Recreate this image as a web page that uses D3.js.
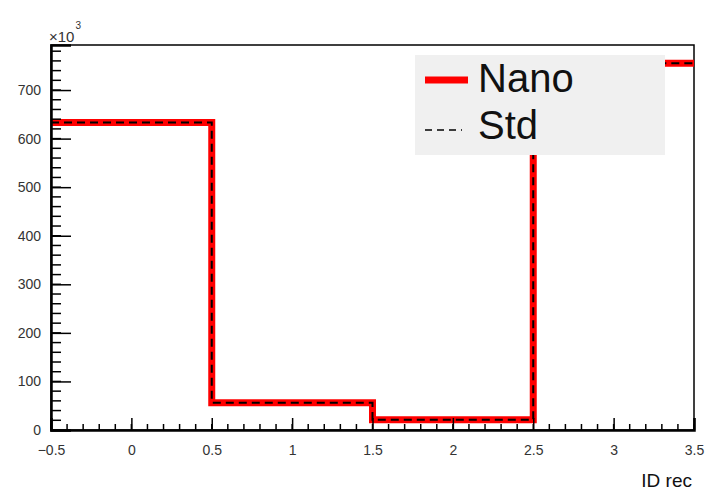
<!DOCTYPE html>
<html><head><meta charset="utf-8">
<script src="https://cdn.jsdelivr.net/npm/d3@7"></script>
<style>body{margin:0;background:#fff}svg{display:block}text{font-family:"Liberation Sans",Arial,sans-serif}</style>
</head><body>
<script>
const binEdges = [-0.5, 0.5, 1.5, 2.5, 3.5];
const nanoValues = [633, 56, 21, 755];   // in units of 10^3
const stdValues  = [633, 56, 21, 755];
const xTicks = [-0.5, 0, 0.5, 1, 1.5, 2, 2.5, 3, 3.5];
const yTicks = [0, 100, 200, 300, 400, 500, 600, 700];
const seriesNames = ["Nano", "Std"];

const W = 705, H = 492;
const m = {l: 51, r: 694, t: 45, b: 430};
const svg = d3.select("body").append("svg").attr("width", W).attr("height", H);

const x = d3.scaleLinear().domain([-0.5, 3.5]).range([m.l, m.r]);
const y = d3.scaleLinear().domain([0, 792.75]).range([m.b, m.t]);

// frame
svg.append("rect").attr("x", m.l).attr("y", m.t).attr("width", m.r - m.l).attr("height", m.b - m.t)
  .attr("fill", "none").attr("stroke", "#000").attr("stroke-width", 1.5);

function stepPath(vals) {
  const p = d3.path();
  vals.forEach((v, i) => {
    if (i === 0) p.moveTo(x(binEdges[0]), y(v));
    else p.lineTo(x(binEdges[i]), y(v));
    p.lineTo(x(binEdges[i + 1]), y(v));
  });
  return p.toString();
}

svg.append("defs").append("clipPath").attr("id", "clip").append("rect")
  .attr("x", m.l).attr("y", m.t).attr("width", m.r - m.l).attr("height", m.b - m.t);

const g = svg.append("g").attr("clip-path", "url(#clip)");
g.append("path").attr("d", stepPath(nanoValues)).attr("fill", "none")
  .attr("stroke", "#ff0000").attr("stroke-width", 7).attr("stroke-linejoin", "miter");
g.append("path").attr("d", stepPath(stdValues)).attr("fill", "none")
  .attr("stroke", "#000").attr("stroke-width", 2).attr("stroke-dasharray", "8,5");

// axes
const xAxis = d3.axisBottom(x).tickValues(xTicks).tickSize(-12).tickFormat(d3.format("")).tickPadding(15);
const xMinor = d3.range(-0.5, 3.5001, 0.1).map(v => Math.round(v * 10) / 10);
const gx = svg.append("g").attr("transform", `translate(0,${m.b})`);
gx.selectAll("line.minor").data(xMinor).join("line").attr("class", "minor")
  .attr("x1", d => x(d)).attr("x2", d => x(d)).attr("y1", 0).attr("y2", -6)
  .attr("stroke", "#000").attr("stroke-width", 1.5);
gx.call(xAxis);
gx.select(".domain").attr("stroke-width", 2.5);
gx.selectAll(".tick line").attr("stroke-width", 1.5);
gx.selectAll(".tick text").attr("font-size", 14).attr("fill", "#333")
  .attr("font-family", "Liberation Sans, Arial, sans-serif");

const yMinor = d3.range(0, 792, 20);
const gy = svg.append("g").attr("transform", `translate(${m.l},0)`);
gy.selectAll("line.minor").data(yMinor).join("line").attr("class", "minor")
  .attr("y1", d => y(d)).attr("y2", d => y(d)).attr("x1", 0).attr("x2", 10)
  .attr("stroke", "#000").attr("stroke-width", 1.5);
const yAxis = d3.axisLeft(y).tickValues(yTicks).tickSize(-20).tickPadding(10).tickFormat(d3.format("d"));
gy.call(yAxis);
gy.select(".domain").attr("stroke-width", 2.5);
gy.selectAll(".tick line").attr("stroke-width", 1.5);
gy.selectAll(".tick text").attr("font-size", 14).attr("fill", "#333")
  .attr("font-family", "Liberation Sans, Arial, sans-serif");

// exponent label
const ex = svg.append("text").attr("x", 49).attr("y", 42).attr("font-size", 15).attr("fill", "#333");
ex.append("tspan").text("×10");
ex.append("tspan").attr("dy", -13).attr("dx", 1).attr("font-size", 10).text("3");

// x title
svg.append("text").attr("x", 692).attr("y", 487).attr("text-anchor", "end")
  .attr("font-size", 19).attr("fill", "#111").text("ID rec");

// legend
const lg = svg.append("g");
lg.append("rect").attr("x", 415).attr("y", 55).attr("width", 250).attr("height", 100).attr("fill", "#f0f0f0");
lg.append("line").attr("x1", 425).attr("x2", 468).attr("y1", 80).attr("y2", 80)
  .attr("stroke", "#ff0000").attr("stroke-width", 7);
lg.append("line").attr("x1", 425).attr("x2", 462).attr("y1", 130).attr("y2", 130)
  .attr("stroke", "#000").attr("stroke-width", 1.5).attr("stroke-dasharray", "7,5");
lg.selectAll("text.lt").data(seriesNames).join("text").attr("class", "lt")
  .attr("x", 478).attr("y", (d, i) => 78 + i * 47).attr("dy", "0.36em")
  .attr("font-size", 40).attr("fill", "#111").text(d => d);
</script>
</body></html>
